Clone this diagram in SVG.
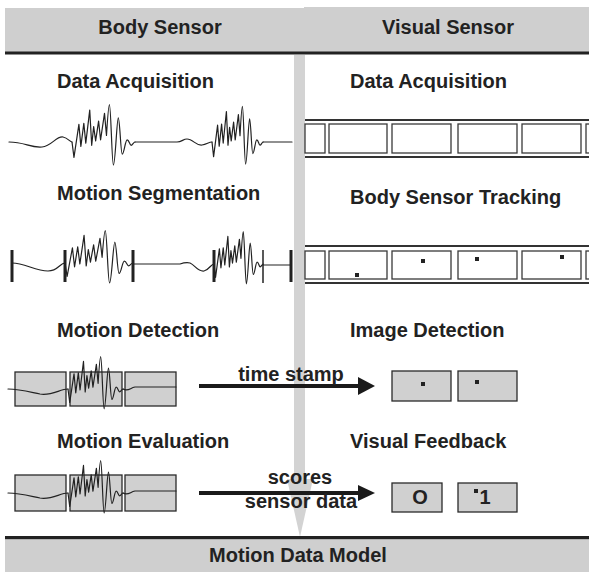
<svg xmlns="http://www.w3.org/2000/svg" xmlns:xlink="http://www.w3.org/1999/xlink" width="589" height="572" viewBox="0 0 589 572">
  <style>
    .band { fill: #cfcfcf; }
    .rule { fill: #222; }
    .title { font-family: "Liberation Sans", Arial, sans-serif; font-weight: bold; font-size: 20px; fill: #222; }
    .mid { text-anchor: middle; }
    .wave { fill: none; stroke: #222; stroke-width: 1.2; stroke-linejoin: round; stroke-linecap: round; }
    .cut { stroke: #222; stroke-width: 3; }
    .cut-thin { stroke: #222; stroke-width: 1.5; }
    .frame { fill: #fff; stroke: #3a3a3a; stroke-width: 1.3; }
    .strip { stroke: #333; stroke-width: 2; }
    .cell { fill: #d0d0d0; stroke: #2a2a2a; stroke-width: 1.3; }
    .dot { fill: #222; }
    .flow { stroke: #1a1a1a; stroke-width: 4; }
    .head { fill: #1a1a1a; }
    .spine { fill: #d3d3d3; }
  </style>
  <defs>
    <!-- one signal burst, baseline at y=0, 64 units long -->
    <path id="burst" class="wave" vector-effect="non-scaling-stroke" d="M0,0 L2,14 L7,-16 L9,4 L12,-17 L14,1 L18,-29 L20,3 L22,-14 L24,-1 L27,-19 L29,-2 L33,-26 L35,-6 C36,-20 37,-34 38,-34 C39.5,-34 40.5,21 42,21 C44,21 45.5,-22 47,-22 C48.5,-22 49.5,11 51,11 C53,11 54,-2 56,-2 C58,-2 58.5,3 60,3 C61.5,3 62.5,0 64,0"/>
  </defs>

  <!-- header band -->
  <g id="header">
    <rect class="band" x="5" y="8" width="300" height="44"/>
    <rect class="band" x="304" y="7" width="285" height="45"/>
    <rect class="rule" x="5" y="51.5" width="584" height="3"/>
    <text class="title mid" x="160" y="34">Body Sensor</text>
    <text class="title mid" x="448" y="34">Visual Sensor</text>
  </g>

  <!-- central flow and arrows -->
  <g id="connectors">
    <rect class="spine" x="294" y="55" width="11" height="425"/>
    <polygon class="spine" points="287,479 313,479 300,537"/>
    <line class="flow" x1="199" y1="386" x2="360" y2="386"/>
    <polygon class="head" points="358,377 375,386 358,395"/>
    <line class="flow" x1="199" y1="493" x2="360" y2="493"/>
    <polygon class="head" points="358,485 375,493 358,501"/>
  </g>

  <g id="label-time-stamp">
    <text class="title mid" x="291" y="381">time stamp</text>
  </g>
  <g id="label-scores">
    <text class="title mid" x="300" y="484">scores</text>
    <text class="title mid" x="301" y="508">sensor data</text>
  </g>

  <!-- body sensor: acquisition -->
  <g id="body-acquisition">
    <text class="title" x="57" y="88">Data Acquisition</text>
    <path class="wave" d="M9,142 C25,142 30,148 42,147 C52,146 56,136 63,137 C68,138 70,142 72,142"/>
    <use xlink:href="#burst" transform="translate(72,142) scale(0.985,1.1)"/>
    <path class="wave" d="M135,142 L177,142 C182,142 183,139 187,139 C193,139 196,146 202,145 C207,144 209,142 212,142"/>
    <use xlink:href="#burst" transform="translate(212,142) scale(0.8,1.05)"/>
    <path class="wave" d="M263,142 L292,142"/>
  </g>

  <!-- body sensor: segmentation -->
  <g id="body-segmentation">
    <text class="title" x="57" y="200">Motion Segmentation</text>
    <path class="wave" d="M12,263 C25,263 35,271 48,271 C58,271 60,263 65,263"/>
    <use xlink:href="#burst" transform="translate(65,263) scale(1.06,0.95)"/>
    <path class="wave" d="M133,264 L180,264 C183,263 186,262 190,263 C195,265 198,272 204,271 C209,270 211,264 214,264"/>
    <use xlink:href="#burst" transform="translate(214,264) scale(0.77,0.95)"/>
    <path class="wave" d="M263,265 L291,265"/>
    <line class="cut" x1="12" y1="250" x2="12" y2="282"/>
    <line class="cut" x1="65" y1="250" x2="65" y2="282"/>
    <line class="cut" x1="133" y1="250" x2="133" y2="282"/>
    <line class="cut" x1="214" y1="250" x2="214" y2="282"/>
    <line class="cut-thin" x1="263" y1="250" x2="263" y2="283"/>
    <line class="cut" x1="291" y1="250" x2="291" y2="282"/>
  </g>

  <!-- body sensor: detection -->
  <g id="body-detection">
    <text class="title" x="57" y="337">Motion Detection</text>
    <rect class="cell" x="15" y="372" width="51" height="34"/>
    <rect class="cell" x="70" y="372" width="52" height="34"/>
    <rect class="cell" x="125" y="372" width="51" height="34"/>
    <path class="wave" d="M8,389 C20,389 30,392 40,394 C52,396 60,389 68,389"/>
    <use xlink:href="#burst" transform="translate(68,389) scale(0.86,0.95)"/>
    <path class="wave" d="M123,389 C128,392 130,388 135,387 L176,387"/>
  </g>

  <!-- body sensor: evaluation -->
  <g id="body-evaluation">
    <text class="title" x="57" y="448">Motion Evaluation</text>
    <rect class="cell" x="15" y="475" width="51" height="36"/>
    <rect class="cell" x="70" y="475" width="52" height="36"/>
    <rect class="cell" x="125" y="475" width="51" height="36"/>
    <path class="wave" d="M8,493 C20,493 30,496 40,498 C52,500 60,493 68,493"/>
    <use xlink:href="#burst" transform="translate(68,493) scale(0.86,0.95)"/>
    <path class="wave" d="M123,493 C128,496 130,492 135,491 L176,491"/>
  </g>

  <!-- visual sensor: acquisition -->
  <g id="visual-acquisition">
    <text class="title" x="350" y="88">Data Acquisition</text>
    <line class="strip" x1="305" y1="120" x2="589" y2="120"/>
    <line class="strip" x1="305" y1="157" x2="589" y2="157"/>
    <rect class="frame" x="305" y="124" width="20" height="29"/>
    <rect class="frame" x="329" y="124" width="58" height="29"/>
    <rect class="frame" x="392" y="124" width="59" height="29"/>
    <rect class="frame" x="458" y="124" width="59" height="29"/>
    <rect class="frame" x="522" y="124" width="59" height="29"/>
    <rect class="frame" x="586" y="124" width="20" height="29"/>
  </g>

  <!-- visual sensor: tracking -->
  <g id="visual-tracking">
    <text class="title" x="350" y="204">Body Sensor Tracking</text>
    <line class="strip" x1="305" y1="246" x2="589" y2="246"/>
    <line class="strip" x1="305" y1="283" x2="589" y2="283"/>
    <rect class="frame" x="305" y="251" width="20" height="28"/>
    <rect class="frame" x="329" y="251" width="58" height="28"/>
    <rect class="frame" x="392" y="251" width="59" height="28"/>
    <rect class="frame" x="458" y="251" width="59" height="28"/>
    <rect class="frame" x="522" y="251" width="59" height="28"/>
    <rect class="frame" x="586" y="251" width="20" height="28"/>
    <rect class="dot" x="355" y="273" width="4" height="4"/>
    <rect class="dot" x="421" y="259" width="4" height="4"/>
    <rect class="dot" x="475" y="257" width="4" height="4"/>
    <rect class="dot" x="560" y="255" width="4" height="4"/>
  </g>

  <!-- visual sensor: detection -->
  <g id="visual-detection">
    <text class="title" x="350" y="337">Image Detection</text>
    <rect class="cell" x="392" y="371" width="59" height="30"/>
    <rect class="cell" x="458" y="371" width="59" height="30"/>
    <rect class="dot" x="421" y="382" width="4" height="4"/>
    <rect class="dot" x="475" y="380" width="4" height="4"/>
  </g>

  <!-- visual sensor: feedback -->
  <g id="visual-feedback">
    <text class="title" x="350" y="448">Visual Feedback</text>
    <rect class="cell" x="392" y="483" width="50" height="29"/>
    <rect class="cell" x="458" y="483" width="59" height="29"/>
    <text class="title mid" x="420" y="504">O</text>
    <rect class="dot" x="474" y="489" width="4" height="4"/>
    <text class="title mid" x="485" y="504">1</text>
  </g>

  <!-- footer band -->
  <g id="footer">
    <rect class="rule" x="5" y="536" width="584" height="3.5"/>
    <rect class="band" x="5" y="539.5" width="584" height="33"/>
    <text class="title mid" x="298" y="562">Motion Data Model</text>
  </g>
</svg>
